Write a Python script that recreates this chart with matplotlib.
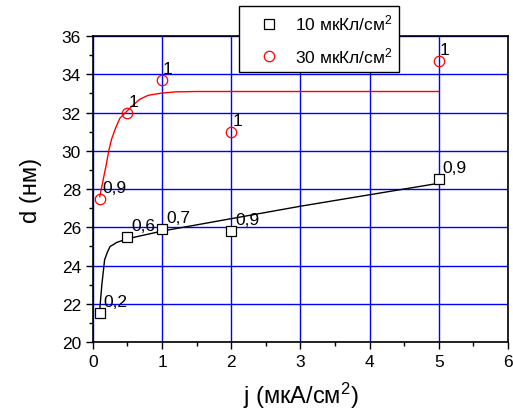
import matplotlib
matplotlib.use("Agg")
import matplotlib.pyplot as plt
from matplotlib.ticker import MultipleLocator

plt.rcParams['font.family'] = ['Liberation Sans', 'DejaVu Sans']
plt.rcParams['mathtext.default'] = 'regular'

# measured points
j_pts = [0.1, 0.5, 1, 2, 5]
d_10 = [21.5, 25.5, 25.9, 25.8, 28.5]
lab_10 = ['0,2', '0,6', '0,7', '0,9', '0,9']
d_30 = [27.5, 32.0, 33.7, 31.0, 34.7]
lab_30 = ['0,9', '1', '1', '1', '1']

# fitted curves
fit10_x = [0.1, 0.13, 0.17, 0.21, 0.25, 0.3, 0.34, 0.42, 0.5, 1.0, 2.0, 3.0, 4.0, 5.0]
fit10_y = [21.7, 23.0, 24.3, 24.7, 25.0, 25.1, 25.2, 25.3, 25.4, 25.8, 26.45, 27.1, 27.7, 28.3]
fit30_x = [0.1, 0.15, 0.19, 0.23, 0.27, 0.33, 0.39, 0.5, 0.6, 0.68, 0.8, 1.0, 1.2, 1.5, 2.0, 5.0]
fit30_y = [27.6, 28.5, 29.2, 30.0, 30.6, 31.2, 31.7, 32.1, 32.45, 32.7, 32.9, 33.02, 33.08, 33.1, 33.1, 33.1]

fig = plt.figure(figsize=(5.13, 4.14), dpi=100)
ax = fig.add_axes([0.181, 0.1715, 0.809, 0.739])

ax.grid(True, which='major', color='#0000ff', lw=1.0)
ax.set_axisbelow(True)

ax.plot(fit10_x, fit10_y, color='black', lw=1.0)
ax.plot(fit30_x, fit30_y, color='red', lw=1.0)
ax.plot(j_pts, d_10, ls='none', marker='s', ms=6.5, mfc='white', mec='black',
        mew=0.9, label='10 мкКл/см$^2$')
ax.plot(j_pts, d_30, ls='none', marker='o', ms=7.5, mfc='none', mec='red',
        mew=0.9, label='30 мкКл/см$^2$')

for x, y, t in zip(j_pts, d_10, lab_10):
    ax.annotate(t, (x, y), xytext=(4, 4), textcoords='offset pixels',
                ha='left', va='bottom', fontsize=12.5)
for x, y, t in zip(j_pts, d_30, lab_30):
    ax.annotate(t, (x, y), xytext=(1 if t == '1' else 3, 4),
                textcoords='offset pixels', ha='left', va='bottom', fontsize=12.5)

ax.set_xlim(0, 6)
ax.set_ylim(20, 36)
ax.xaxis.set_major_locator(MultipleLocator(1))
ax.xaxis.set_minor_locator(MultipleLocator(0.5))
ax.yaxis.set_major_locator(MultipleLocator(2))
ax.yaxis.set_minor_locator(MultipleLocator(1))
ax.tick_params(which='both', direction='out', top=False, right=False,
               labelsize=12.5, width=1.0)
ax.tick_params(which='major', length=5)
ax.tick_params(which='minor', length=3)
for s in ax.spines.values():
    s.set_linewidth(1.2)

ax.set_xlabel('j (мкА/см$^2$)', fontsize=17, labelpad=8)
ax.set_ylabel('d (нм)', fontsize=17, labelpad=14)

leg = ax.legend(loc='upper left', bbox_to_anchor=(0.466, 0.983),
                bbox_transform=fig.transFigure, borderaxespad=0,
                fancybox=False, framealpha=1, edgecolor='black',
                fontsize=12.5, handlelength=2.6, handletextpad=0.2,
                borderpad=0.4, labelspacing=0.7)
leg.get_frame().set_linewidth(1.0)

fig.savefig('out.png', dpi=100)
